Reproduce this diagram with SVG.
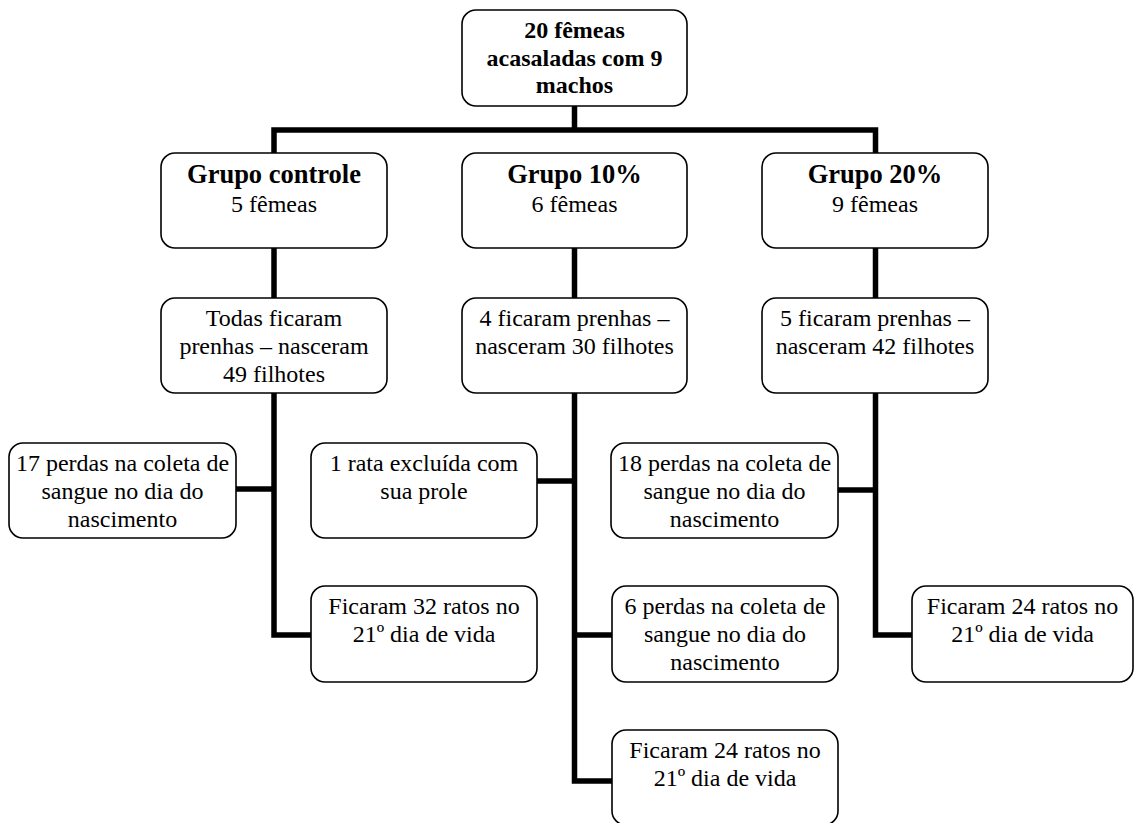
<svg xmlns="http://www.w3.org/2000/svg" width="1135" height="823" viewBox="0 0 1135 823">
<style>
.box{fill:#fff;stroke:#000;stroke-width:1.6}
.conn{fill:none;stroke:#000;stroke-width:5.5;stroke-linejoin:miter;stroke-linecap:butt}
text{font-size:24px;fill:#000;text-anchor:middle}
.b{font-weight:bold}
.t{font-weight:bold;font-size:26.5px}
</style>
<rect width="1135" height="823" fill="#fff"/>
<g id="connectors">
<path class="conn" d="M574.5 106 V130"/>
<path class="conn" d="M274 153 V130 H875.5 V153"/>
<path class="conn" d="M274 248 V298"/>
<path class="conn" d="M574.5 248 V298"/>
<path class="conn" d="M875.5 248 V298"/>
<path class="conn" d="M274 393 V635 H311"/>
<path class="conn" d="M236 489 H274"/>
<path class="conn" d="M574.5 393 V781 H612"/>
<path class="conn" d="M537 481 H574.5"/>
<path class="conn" d="M574.5 635 H612"/>
<path class="conn" d="M838 490 H875.5"/>
<path class="conn" d="M875.5 393 V635 H912"/>
</g>
<g id="nodes" font-family="Liberation Serif">
<g id="n-top">
<rect class="box" x="462" y="10" width="225" height="96" rx="14"/>
<text class="b" x="574.5" y="38">20 fêmeas</text>
<text class="b" x="574.5" y="66">acasaladas com 9</text>
<text class="b" x="574.5" y="93">machos</text>
</g>
<g id="n-g1">
<rect class="box" x="161" y="153" width="226" height="95" rx="14"/>
<text class="t" x="274" y="183">Grupo controle</text>
<text x="274" y="212">5 fêmeas</text>
</g>
<g id="n-g2">
<rect class="box" x="462" y="153" width="225" height="95" rx="14"/>
<text class="t" x="574.5" y="183">Grupo 10%</text>
<text x="574.5" y="212">6 fêmeas</text>
</g>
<g id="n-g3">
<rect class="box" x="762" y="153" width="226" height="95" rx="14"/>
<text class="t" x="875" y="183">Grupo 20%</text>
<text x="875" y="212">9 fêmeas</text>
</g>
<g id="n-r2a">
<rect class="box" x="161" y="298" width="226" height="95" rx="14"/>
<text x="274" y="326">Todas ficaram</text>
<text x="274" y="354">prenhas – nasceram</text>
<text x="274" y="382">49 filhotes</text>
</g>
<g id="n-r2b">
<rect class="box" x="462" y="298" width="225" height="95" rx="14"/>
<text x="574.5" y="326">4 ficaram prenhas –</text>
<text x="574.5" y="354">nasceram 30 filhotes</text>
</g>
<g id="n-r2c">
<rect class="box" x="762" y="298" width="226" height="95" rx="14"/>
<text x="875" y="326">5 ficaram prenhas –</text>
<text x="875" y="354">nasceram 42 filhotes</text>
</g>
<g id="n-17perdas">
<rect class="box" x="9" y="443" width="227" height="95" rx="14"/>
<text x="122.5" y="471">17 perdas na coleta de</text>
<text x="122.5" y="499">sangue no dia do</text>
<text x="122.5" y="527">nascimento</text>
</g>
<g id="n-1rata">
<rect class="box" x="311" y="443" width="226" height="95" rx="14"/>
<text x="424" y="471">1 rata excluída com</text>
<text x="424" y="499">sua prole</text>
</g>
<g id="n-18perdas">
<rect class="box" x="611" y="443" width="227" height="95" rx="14"/>
<text x="724.5" y="471">18 perdas na coleta de</text>
<text x="724.5" y="499">sangue no dia do</text>
<text x="724.5" y="527">nascimento</text>
</g>
<g id="n-ficaram32">
<rect class="box" x="311" y="586" width="226" height="96" rx="14"/>
<text x="424" y="614">Ficaram 32 ratos no</text>
<text x="424" y="642">21º dia de vida</text>
</g>
<g id="n-6perdas">
<rect class="box" x="612" y="586" width="226" height="96" rx="14"/>
<text x="725" y="614">6 perdas na coleta de</text>
<text x="725" y="642">sangue no dia do</text>
<text x="725" y="670">nascimento</text>
</g>
<g id="n-ficaram24r">
<rect class="box" x="912" y="586" width="221" height="96" rx="14"/>
<text x="1022.5" y="614">Ficaram 24 ratos no</text>
<text x="1022.5" y="642">21º dia de vida</text>
</g>
<g id="n-ficaram24b">
<rect class="box" x="612" y="730" width="226" height="95" rx="14"/>
<text x="725" y="758">Ficaram 24 ratos no</text>
<text x="725" y="786">21º dia de vida</text>
</g>
</g>
</svg>
